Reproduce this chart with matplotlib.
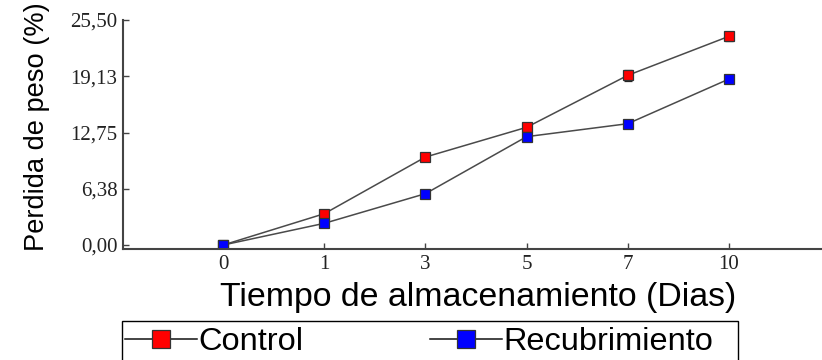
import matplotlib
matplotlib.use('Agg')
import matplotlib.pyplot as plt
from matplotlib.patches import Rectangle

# storage days and weight loss (%)
DAYS = ['0', '1', '3', '5', '7', '10']
CONTROL = [0.0, 3.55, 9.97, 13.34, 19.23, 23.65]
CONTROL_ERR = [0.0, 0.15, 0.15, 0.15, 0.6, 0.5]
COATED = [0.0, 2.46, 5.82, 12.28, 13.75, 18.81]
COATED_ERR = [0.0, 0.1, 0.1, 0.15, 0.15, 0.2]
YTICKS = [0.0, 6.38, 12.75, 19.13, 25.50]


def weight_loss_plot():
    W, H = 822, 360
    fig = plt.figure(figsize=(W / 100, H / 100), dpi=100)
    ax = fig.add_axes([123 / W, 1 - 249 / H, 699 / W, 229 / H])

    pos = list(range(len(DAYS)))
    # error bars first, then lines with square markers on top
    for vals, err in [(CONTROL, CONTROL_ERR), (COATED, COATED_ERR)]:
        ax.errorbar(pos, vals, yerr=err, fmt='none', ecolor='#222222',
                    elinewidth=0.9, capsize=3, capthick=0.9)
    line_style = dict(color='#4a4a4a', lw=1.1, marker='s', markersize=7,
                      markeredgecolor='#333333', markeredgewidth=0.9)
    h1, = ax.plot(pos, CONTROL, markerfacecolor='#ff0000', label='Control', **line_style)
    h2, = ax.plot(pos, COATED, markerfacecolor='#0000ff', label='Recubrimiento', **line_style)

    ax.set_xlim(-0.99, 5.92)
    ax.set_ylim(-0.45, 25.5)
    ax.set_xticks(pos)
    ax.set_xticklabels(DAYS)
    ax.set_yticks(YTICKS)
    ax.set_yticklabels([('%.2f' % v).replace('.', ',') for v in YTICKS])

    for side in ['top', 'right']:
        ax.spines[side].set_visible(False)
    for side in ['left', 'bottom']:
        ax.spines[side].set_color('#444444')
        ax.spines[side].set_linewidth(1.5)
    ax.tick_params(direction='in', length=4, width=1, color='#444444',
                   labelcolor='#222222', labelsize=15, pad=4)
    for lab in ax.get_xticklabels() + ax.get_yticklabels():
        lab.set_family('Liberation Serif')

    ax.set_xlabel('Tiempo de almacenamiento (Dias)', family='Liberation Sans',
                  fontsize=24.4, color='black')
    ax.xaxis.set_label_coords((478 - 123) / 699, -0.145)
    ax.set_ylabel('Perdida de peso (%)', family='Liberation Sans',
                  fontsize=19.6, color='black')
    ax.yaxis.set_label_coords(-0.105, 0.535)

    # legend box runs past the bottom edge of the figure
    fig.add_artist(Rectangle((122 / W, -0.1), 616 / W, 1 - 321 / H + 0.1,
                             transform=fig.transFigure, facecolor='white',
                             edgecolor='black', lw=1.0, zorder=2))
    leg = fig.legend([h1, h2], ['Control', 'Recubrimiento'], loc='upper left', ncol=2,
                     bbox_to_anchor=(125 / W, 1 - 327 / H),
                     prop={'family': 'Liberation Sans', 'size': 23.4},
                     frameon=False, borderpad=0, borderaxespad=0,
                     handlelength=2.2, handletextpad=0.06, columnspacing=3.9,
                     markerscale=1.8)
    leg.set_zorder(3)
    for h in leg.legend_handles:
        h.set_color('#111111')

    plt.savefig('out.png', dpi=100)


if __name__ == '__main__':
    weight_loss_plot()
